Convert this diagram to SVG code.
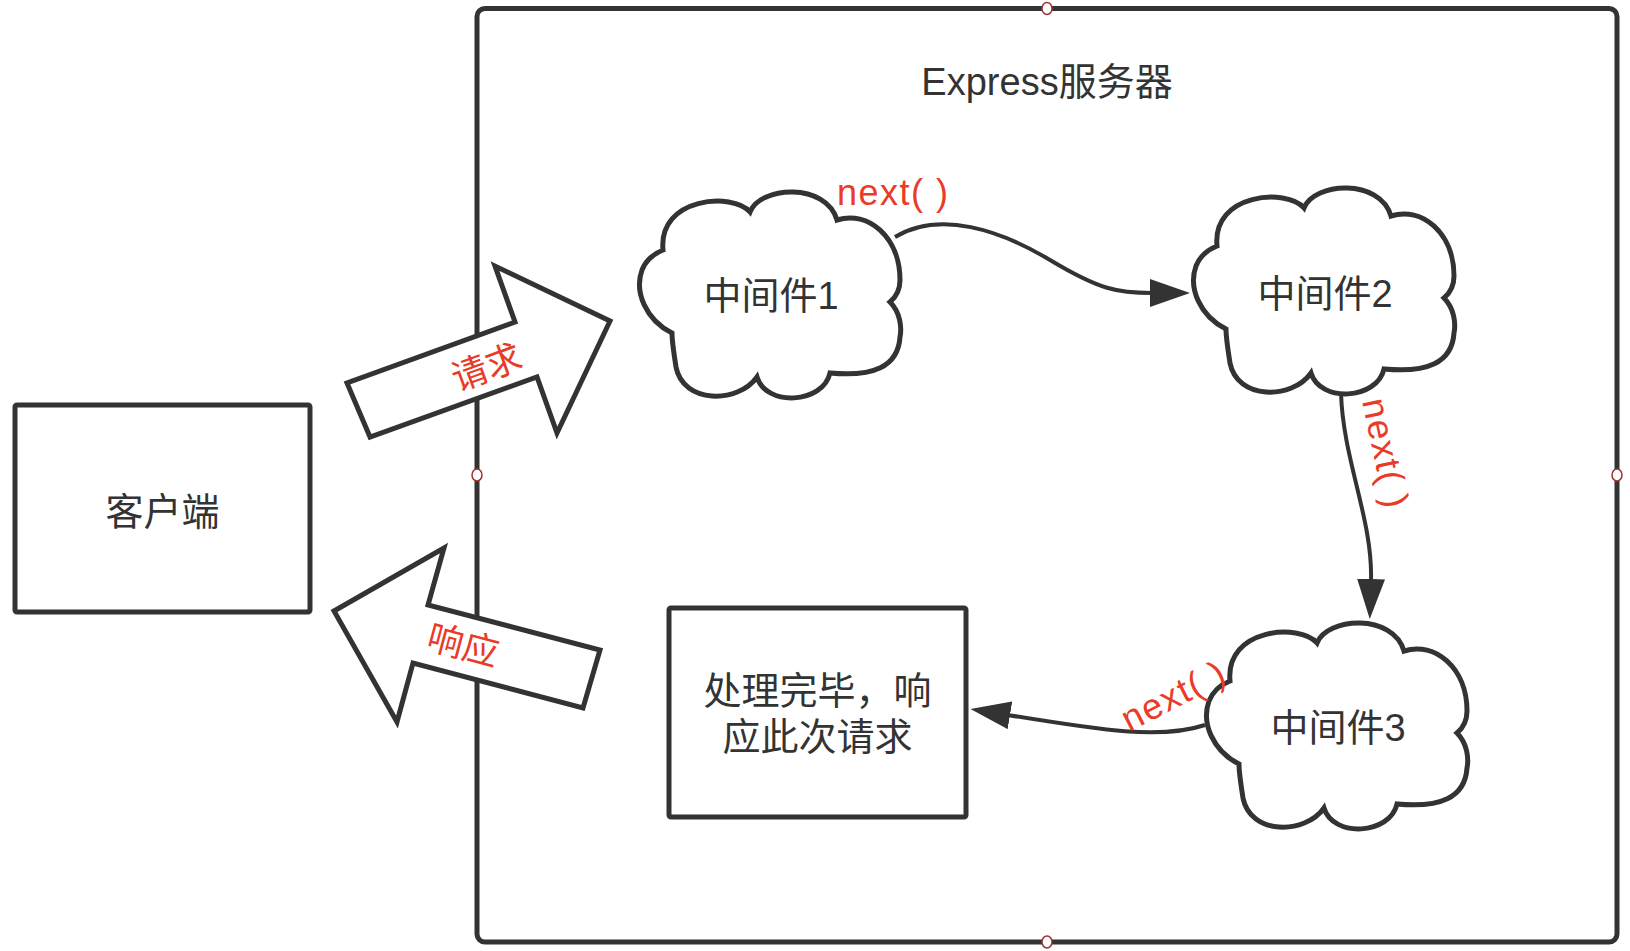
<svg xmlns="http://www.w3.org/2000/svg" xmlns:xlink="http://www.w3.org/1999/xlink" width="1630" height="951" viewBox="0 0 1630 951">
<style>
.ln{fill:none;stroke:#333333;stroke-width:4;}
.shape{fill:#ffffff;stroke:#333333;stroke-width:5;stroke-linejoin:miter;}
.txt{font-family:"Liberation Sans","Noto Sans CJK SC",sans-serif;font-size:38px;fill:#333333;text-anchor:middle;}
.red{font-family:"Liberation Sans","Noto Sans CJK SC",sans-serif;fill:#ea3a28;}
.nx{font-size:36px;letter-spacing:1.5px;}
.pt{fill:#ffffff;stroke:#9b3330;stroke-width:1.5;}
</style>
<defs>
<marker id="arr" viewBox="0 0 40 28" markerWidth="40" markerHeight="28" markerUnits="userSpaceOnUse" refX="2" refY="14" orient="auto">
<path d="M0,0 L40,14 L0,28 Z" fill="#333333"/>
</marker>
<path id="cloud" d="M25 58 C20 5,95 0,112 20 C122 -6,188 -10,199 28 C230 18,262 45,262 88 C262 98,258 105,252 110 C262 120,264 135,262 145 C260 175,235 185,192 181 C185 212,128 215,119 185 C100 212,45 212,38 175 C36 162,34 150,34 141 C8 128,-4 100,4 78 C8 68,15 62,25 58 Z"/>
</defs>
<rect width="1630" height="951" fill="#ffffff"/>

<g id="server">
<rect x="477" y="8.5" width="1140" height="933.5" rx="8" fill="#ffffff" stroke="#333333" stroke-width="5"/>
<text class="txt" x="1047" y="95">Express服务器</text>
</g>

<g id="client">
<rect class="shape" x="15" y="405" width="295" height="207" rx="2"/>
<text class="txt" x="162.5" y="525">客户端</text>
</g>

<g id="request-arrow">
<path class="shape" d="M370 437 L347 383 L515 322 L495 266 L610 321 L557 433 L537 377 Z"/>
<text class="red" font-size="36" text-anchor="middle" transform="translate(487,368) rotate(-20)" y="12">请求</text>
</g>

<g id="response-arrow">
<path class="shape" d="M334 611 L444 548 L428 605 L600 650 L583 708 L413 663 L397 722 Z"/>
<text class="red" font-size="36" text-anchor="middle" transform="translate(463,646) rotate(15)" y="12">响应</text>
</g>

<g id="mw1">
<use xlink:href="#cloud" href="#cloud" class="shape" transform="translate(638,192)"/>
<text class="txt" x="771" y="309">中间件1</text>
</g>

<g id="mw2">
<use xlink:href="#cloud" href="#cloud" class="shape" transform="translate(1192,188)"/>
<text class="txt" x="1325" y="307">中间件2</text>
</g>

<g id="mw3">
<use xlink:href="#cloud" href="#cloud" class="shape" transform="translate(1205,623)"/>
<text class="txt" x="1338" y="741">中间件3</text>
</g>

<g id="done">
<rect class="shape" x="669" y="608" width="297" height="209" rx="2"/>
<text class="txt" x="817.5" y="704">处理完毕，响</text>
<text class="txt" x="817.5" y="750">应此次请求</text>
</g>

<g id="connectors">
<path class="ln" d="M895 237 C940 210,1000 230,1050 260 S1118 293,1152 293" marker-end="url(#arr)"/>
<path class="ln" d="M1341 393 C1343 460,1373 520,1371 581" marker-end="url(#arr)"/>
<path class="ln" d="M1205 725 C1160 740,1100 730,1008 715" marker-end="url(#arr)"/>
<text class="red nx" x="837" y="205">next( )</text>
<text class="red nx" transform="translate(1362,401) rotate(78)">next( )</text>
<text class="red nx" transform="translate(1129,732) rotate(-27)">next( )</text>
</g>

<g id="points">
<ellipse class="pt" cx="1047" cy="8.5" rx="5" ry="6"/>
<ellipse class="pt" cx="1047" cy="942" rx="5" ry="6"/>
<ellipse class="pt" cx="477" cy="475" rx="5" ry="6"/>
<ellipse class="pt" cx="1617" cy="475" rx="5" ry="6"/>
</g>
</svg>
